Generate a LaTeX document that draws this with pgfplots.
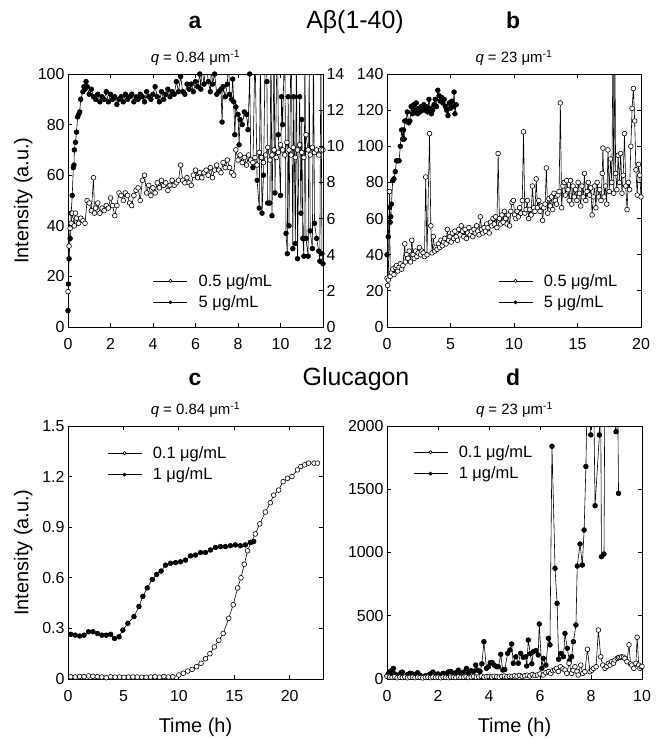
\documentclass[border=0pt]{standalone}
\usepackage{fontspec}
\setmainfont{Liberation Sans}
\usepackage{pgfplots}
\pgfplotsset{compat=1.18}
\pgfplotsset{
  myax/.style={scale only axis, height=253bp, font=\fontsize{16}{19}\selectfont,
    tick align=inside, major tick length=4bp, axis line style={line width=0.8pt},
    every tick/.style={line width=0.8pt, black},
    /pgf/number format/assume math mode=true, /pgf/number format/1000 sep={},
    xticklabel style={yshift=-8bp},
    title style={font=\fontsize{15}{17}\selectfont, yshift=-1bp},
    every axis y label/.style={at={(axis description cs:-0.176,0.5)}, rotate=90, anchor=center, font=\fontsize{20}{24}\selectfont},
    every axis x label/.style={at={(axis description cs:0.5,-0.19)}, anchor=center, font=\fontsize{20}{24}\selectfont},
    legend style={draw=none, fill=none, font=\fontsize{16.5}{19}\selectfont, row sep=4bp, inner sep=0pt,
      /tikz/every odd column/.style={column sep=9bp}},
    legend cell align=left,
    legend image code/.code={\draw[mark repeat=2,mark phase=2,##1] plot coordinates {(0bp,0bp)(17bp,0bp)(34bp,0bp)};},
  },
  openS/.style={black, line width=0.6pt, mark=*, mark size=2.4pt, mark options={fill=white, line width=0.6pt}},
  fillS/.style={black, line width=0.6pt, mark=*, mark size=2.4pt, mark options={fill=black}},
  openL/.style={black, line width=0.6pt, mark=*, mark size=1.6pt, mark options={fill=white, line width=0.6pt}},
  fillL/.style={black, line width=0.6pt, mark=*, mark size=1.6pt, mark options={fill=black}},
}
\begin{document}
\begin{tikzpicture}
\path[use as bounding box] (0,0) rectangle (662bp,-739bp);
% ---------- titles
\node[font=\fontsize{23}{26}\selectfont\bfseries, anchor=base] at (195bp,-28bp) {a};
\node[font=\fontsize{25}{28}\selectfont, anchor=base] at (355bp,-28bp) {Aβ(1-40)};
\node[font=\fontsize{23}{26}\selectfont\bfseries, anchor=base] at (513bp,-28bp) {b};
\node[font=\fontsize{23}{26}\selectfont\bfseries, anchor=base] at (195bp,-385bp) {c};
\node[font=\fontsize{25}{28}\selectfont, anchor=base] at (356bp,-385bp) {Glucagon};
\node[font=\fontsize{23}{26}\selectfont\bfseries, anchor=base] at (513bp,-385bp) {d};

% ---------- panel a
\begin{axis}[myax, width=255bp, at={(68bp,-327bp)}, anchor=south west,
  xmin=0, xmax=12, ymin=0, ymax=100, xtick={0,2,...,12}, ytick={0,20,...,100}, ytick pos=left,
  ylabel={Intensity (a.u.)}, title={\textit{q} = 0.84 μm\textsuperscript{-1}},
  legend style={at={(0.333,0.14)}, anchor=west}]
\addlegendimage{openL}\addlegendentry{0.5 μg/mL}
\addlegendimage{fillL}\addlegendentry{5 μg/mL}
\addplot[fillS, forget plot] coordinates {
(0,6.5)(0.02,17)(0.05,27)(0.1,35)(0.15,45)(0.2,52)(0.25,63)(0.28,64)(0.3,70)(0.35,73)(0.4,77)(0.45,83)(0.5,84)(0.55,85)(0.6,90)(0.7,93)(0.75,95)(0.8,94)(0.85,97)(0.9,95)
(1.0,92)(1.1,94)(1.2,91)(1.3,90)(1.4,92)(1.5,89)(1.6,91)(1.7,90)(1.8,93)(1.9,89)(2.0,92)(2.1,90)(2.2,91)(2.3,88)(2.4,90)(2.5,91)(2.6,89)(2.7,92)(2.8,90)(2.9,91)
(3.0,92)(3.1,89)(3.2,91)(3.3,90)(3.4,92)(3.5,91)(3.6,89)(3.7,93)(3.8,91)(3.9,90)(4.0,92)(4.1,95)(4.2,91)(4.3,89)(4.4,93)(4.5,90)(4.6,92)(4.7,94)(4.8,91)(4.9,93)
(5.0,92)(5.1,97)(5.2,93)(5.3,99)(5.4,93)(5.5,92)(5.6,96)(5.7,94)(5.8,96)(5.9,93)(6.0,97)(6.1,95)(6.2,100)(6.25,94)(6.3,103)(6.4,96)(6.5,105)(6.6,97)(6.7,93)(6.75,104)(6.8,96)(6.9,100)
(7.0,92)(7.1,93)(7.2,94)(7.25,81)(7.3,95)(7.4,91)(7.5,96)(7.55,108)(7.6,92)(7.7,90)(7.75,98)(7.8,89)(7.85,76)(7.9,87)(8.0,84)(8.05,72)(8.1,82)(8.2,80)(8.3,85)(8.4,84)(8.47,78)
(8.55,100)(8.6,66)(8.7,63)(8.8,110)(8.9,58)(9.0,47)(9.05,110)(9.13,45)(9.2,60)(9.3,120)(9.36,97)(9.4,49)(9.5,49)(9.55,115)(9.6,44)(9.7,110)(9.74,53)(9.85,120)(9.9,76)
(10.0,52)(10.05,91)(10.1,80)(10.2,115)(10.26,37)(10.32,29)(10.36,91)(10.4,40)(10.5,120)(10.58,31)(10.62,91)(10.7,33)(10.75,115)(10.8,27)(10.9,91)(10.96,45)
(11.0,82)(11.05,35)(11.1,28)(11.15,110)(11.2,35)(11.3,28)(11.35,105)(11.4,38)(11.5,31)(11.55,115)(11.6,41)(11.7,35)(11.8,30)(11.85,26)(11.9,110)(11.95,29)(12.0,25)};
\addplot[openS, forget plot] coordinates {
(0,14)(0.05,32)(0.1,39)(0.15,41)(0.2,45)(0.3,40)(0.35,45)(0.4,43)(0.5,41)(0.6,43)(0.7,42)(0.8,41)(0.9,50)(1.0,49)(1.1,46)(1.2,59)(1.25,45)(1.3,47)(1.4,49)(1.5,45)
(1.6,47)(1.7,46)(1.8,48)(1.9,47)(2.0,51)(2.1,48)(2.2,44)(2.3,48)(2.4,53)(2.5,52)(2.6,50)(2.7,53)(2.8,52)(2.9,49)(3.0,48)(3.1,52)(3.2,54)(3.3,55)(3.4,50)(3.5,58)
(3.6,60)(3.7,53)(3.8,56)(3.9,52)(4.0,55)(4.1,53)(4.2,57)(4.3,55)(4.4,58)(4.5,56)(4.6,57)(4.7,54)(4.8,56)(4.9,58)(5.0,56)(5.1,57)(5.2,58)(5.3,64)(5.4,58)(5.5,57)
(5.6,59)(5.7,57)(5.8,56)(5.9,60)(6.0,62)(6.1,59)(6.2,61)(6.3,59)(6.4,61)(6.5,62)(6.6,60)(6.7,63)(6.8,59)(6.9,62)(7.0,64)(7.1,62)(7.2,61)(7.3,65)(7.4,63)(7.5,66)
(7.6,63)(7.7,61)(7.8,60)(7.9,70)(8.0,66)(8.1,68)(8.2,65)(8.3,67)(8.4,64)(8.5,68)(8.6,66)(8.7,65)(8.8,67)(8.9,64)(9.0,69)(9.1,67)(9.2,65)(9.3,68)(9.4,71)(9.5,66)
(9.6,68)(9.7,70)(9.8,67)(9.9,69)(10.0,72)(10.1,70)(10.2,68)(10.3,73)(10.4,70)(10.5,68)(10.6,71)(10.7,67)(10.8,70)(10.9,72)(11.0,69)(11.1,67)(11.2,76)(11.3,70)
(11.4,68)(11.5,71)(11.6,69)(11.7,70)(11.8,68)(11.9,70)(12.0,70)};
\end{axis}
% right axis of panel a
\begin{axis}[myax, width=255bp, at={(68bp,-327bp)}, anchor=south west,
  xmin=0, xmax=12, ymin=0, ymax=14, axis x line=none, axis y line*=right, ytick={0,2,...,14}]
\end{axis}

% ---------- panel b
\begin{axis}[myax, width=254bp, at={(387bp,-327bp)}, anchor=south west,
  xmin=0, xmax=20, ymin=0, ymax=140, xtick={0,5,...,20}, ytick={0,20,...,140},
  title={\textit{q} = 23 μm\textsuperscript{-1}},
  legend style={at={(0.437,0.14)}, anchor=west}]
\addlegendimage{openL}\addlegendentry{0.5 μg/mL}
\addlegendimage{fillL}\addlegendentry{5 μg/mL}
\addplot[openS, forget plot] coordinates {
(0.00,27)(0.05,23)(0.10,26)(0.20,75)(0.25,28)(0.35,30)(0.45,32)(0.55,29)(0.65,33)(0.75,34)(0.85,31)(0.95,33)(1.05,35)(1.15,32)(1.25,34)(1.40,46)(1.45,36)(1.55,40)(1.65,38)(1.75,42)
(1.85,36)(1.95,48)(2.05,40)(2.15,38)(2.25,42)(2.35,39)(2.45,41)(2.55,44)(2.65,40)(2.75,42)(2.85,41)(2.95,39)(3.05,83)(3.15,40)(3.35,107)(3.45,56)(3.55,41)(3.65,50)(3.75,42)(3.85,44)
(3.95,43)(4.05,46)(4.15,44)(4.25,48)(4.35,45)(4.45,47)(4.55,49)(4.65,46)(4.75,54)(4.85,48)(4.95,50)(5.05,47)(5.15,52)(5.25,49)(5.35,53)(5.45,50)(5.55,48)(5.65,54)(5.75,51)(5.85,56)
(5.95,53)(6.05,50)(6.15,54)(6.25,49)(6.35,52)(6.45,55)(6.55,51)(6.65,53)(6.75,50)(6.85,54)(6.95,52)(7.05,56)(7.15,53)(7.25,51)(7.35,61)(7.45,54)(7.55,52)(7.65,55)(7.75,53)(7.85,57)
(7.95,55)(8.05,52)(8.15,58)(8.25,56)(8.35,60)(8.45,57)(8.55,61)(8.65,55)(8.75,96)(8.85,60)(8.95,57)(9.05,62)(9.15,58)(9.25,64)(9.35,60)(9.45,57)(9.55,62)(9.65,56)(9.75,64)(9.85,69)
(9.95,70)(10.05,62)(10.15,60)(10.25,64)(10.35,61)(10.45,66)(10.55,63)(10.65,70)(10.75,108)(10.85,63)(10.95,65)(11.05,70)(11.15,60)(11.25,65)(11.35,62)(11.45,78)(11.55,66)(11.65,64)(11.75,82)(11.85,66)
(11.95,70)(12.05,64)(12.15,67)(12.25,59)(12.35,66)(12.45,68)(12.55,88)(12.65,63)(12.75,71)(12.85,67)(12.95,72)(13.05,65)(13.15,74)(13.25,70)(13.35,68)(13.45,73)(13.55,75)(13.65,124)(13.75,66)(13.85,78)
(13.95,80)(14.05,73)(14.15,81)(14.25,76)(14.35,70)(14.45,81)(14.55,68)(14.65,78)(14.75,72)(14.85,76)(14.95,70)(15.05,80)(15.15,74)(15.25,67)(15.35,78)(15.45,72)(15.55,85)(15.65,70)(15.75,75)(15.85,80)
(15.95,73)(16.05,77)(16.15,62)(16.25,72)(16.35,78)(16.45,66)(16.55,80)(16.65,72)(16.75,76)(16.85,70)(16.95,85)(17.00,99)(17.10,72)(17.20,78)(17.30,68)(17.40,98)(17.50,75)(17.60,93)(17.70,80)(17.80,160)
(17.85,74)(17.95,150)(18.00,85)(18.10,76)(18.20,95)(18.30,80)(18.40,96)(18.50,74)(18.60,84)(18.70,107)(18.80,78)(18.90,65)(19.00,80)(19.10,76)(19.20,100)(19.30,121)(19.40,132)(19.50,114)(19.60,87)(19.70,73)
(19.80,90)(19.90,84)(20.00,72)};
\addplot[fillS, forget plot] coordinates {
(0.00,40)(0.10,50)(0.20,66)(0.25,58)(0.30,61)(0.35,68)(0.45,81)(0.55,82)(0.65,86)(0.75,92)(0.85,92)(0.95,92)(1.05,100)(1.15,109)(1.25,104)(1.30,109)(1.35,104)(1.40,114)(1.50,114)(1.60,119)
(1.70,113)(1.80,114)(1.90,122)(2.00,118)(2.10,123)(2.20,120)(2.30,124)(2.40,118)(2.50,121)(2.60,119)(2.70,122)(2.80,120)(2.90,123)(3.00,120)(3.10,122)(3.20,119)(3.30,126)(3.40,121)(3.50,118)(3.60,120)
(3.70,123)(3.80,126)(3.90,122)(4.00,131)(4.10,128)(4.20,125)(4.30,127)(4.40,124)(4.50,126)(4.60,122)(4.70,120)(4.80,117)(4.90,124)(5.00,121)(5.10,125)(5.20,122)(5.28,130)(5.35,118)(5.45,123)};
\end{axis}

% ---------- panel c
\begin{axis}[myax, width=255bp, at={(68bp,-679bp)}, anchor=south west,
  xmin=0, xmax=23, ymin=0, ymax=1.5, xtick={0,5,...,20}, ytick={0,0.3,0.6,0.9,1.2,1.5},
  yticklabels={0,0.3,0.6,0.9,1.2,1.5},
  ylabel={Intensity (a.u.)}, xlabel={Time (h)}, title={\textit{q} = 0.84 μm\textsuperscript{-1}},
  legend style={at={(0.153,0.85)}, anchor=west}]
\addlegendimage{openL}\addlegendentry{0.1 μg/mL}
\addlegendimage{fillL}\addlegendentry{1 μg/mL}
\addplot[openS, forget plot] coordinates {
(0.25,0.013)(0.65,0.012)(1.05,0.015)(1.45,0.014)(1.85,0.018)(2.25,0.016)(2.65,0.014)(3.05,0.012)(3.45,0.008)(3.85,0.013)(4.25,0.011)(4.65,0.012)(5.05,0.010)(5.45,0.011)(5.85,0.012)
(6.25,0.012)(6.65,0.011)(7.05,0.010)(7.45,0.012)(7.85,0.013)(8.25,0.011)(8.65,0.015)(9.05,0.012)(9.45,0.013)
(10.0,0.024)(10.4,0.034)(10.8,0.047)(11.2,0.057)(11.6,0.073)(12.0,0.093)(12.4,0.12)(12.8,0.15)(13.2,0.19)(13.6,0.23)(14.0,0.27)(14.5,0.36)(14.9,0.44)(15.3,0.54)(15.6,0.60)(15.9,0.68)(16.2,0.76)
(16.5,0.81)(16.9,0.86)(17.3,0.92)(17.8,0.99)(18.25,1.045)(18.55,1.09)(19.0,1.12)(19.4,1.17)(19.8,1.19)(20.2,1.20)(20.7,1.24)(21.0,1.26)(21.35,1.27)(21.7,1.28)(22.2,1.28)(22.5,1.28)};
\addplot[fillS, forget plot] coordinates {
(0.25,0.265)(0.65,0.26)(1.05,0.255)(1.45,0.26)(1.85,0.28)(2.25,0.28)(2.65,0.27)(3.05,0.26)(3.45,0.26)(3.85,0.265)(4.2,0.24)(4.6,0.25)(4.95,0.29)(5.4,0.33)(5.95,0.37)(6.4,0.43)
(6.75,0.49)(7.15,0.54)(7.6,0.59)(8.0,0.62)(8.4,0.64)(8.8,0.675)(9.25,0.686)(9.7,0.69)(10.15,0.695)(10.6,0.705)(11.05,0.73)(11.5,0.735)(11.95,0.75)(12.4,0.75)(12.85,0.765)
(13.3,0.78)(13.75,0.785)(14.2,0.785)(14.65,0.79)(15.1,0.795)(15.55,0.79)(16.0,0.795)(16.45,0.81)(16.75,0.815)};
\end{axis}

% ---------- panel d
\begin{axis}[myax, width=255bp, at={(387bp,-679bp)}, anchor=south west,
  xmin=0, xmax=10, ymin=0, ymax=2000, xtick={0,2,...,10}, ytick={0,500,...,2000},
  xlabel={Time (h)}, title={\textit{q} = 23 μm\textsuperscript{-1}},
  legend style={at={(0.102,0.854)}, anchor=west}]
\addlegendimage{openL}\addlegendentry{0.1 μg/mL}
\addlegendimage{fillL}\addlegendentry{1 μg/mL}
\addplot[fillS, forget plot] coordinates {
(0.00,24)(0.05,40)(0.10,58)(0.15,30)(0.20,70)(0.25,84)(0.30,40)(0.35,20)(0.40,30)(0.50,15)(0.55,50)(0.60,55)(0.70,20)(0.80,35)(0.90,45)(1.00,40)(1.10,25)(1.20,50)(1.30,30)(1.40,20)
(1.50,25)(1.60,30)(1.70,40)(1.80,55)(1.90,35)(2.00,40)(2.10,30)(2.20,45)(2.30,40)(2.40,55)(2.50,60)(2.60,45)(2.70,50)(2.80,70)(2.90,40)(3.00,55)(3.12,84)(3.20,50)(3.30,65)(3.40,60)
(3.48,110)(3.55,70)(3.65,60)(3.72,120)(3.80,295)(3.90,84)(3.98,97)(4.05,130)(4.13,129)(4.20,110)(4.30,97)(4.37,97)(4.46,195)(4.54,71)(4.62,75)(4.73,203)(4.82,229)(4.89,277)(4.95,124)(5.05,176)
(5.15,124)(5.24,203)(5.35,172)(5.44,176)(5.48,103)(5.54,308)(5.62,200)(5.68,120)(5.74,216)(5.84,225)(5.93,190)(5.97,435)(6.07,84)(6.13,163)(6.23,110)(6.33,322)(6.39,270)(6.47,1840)(6.59,875)(6.67,598)
(6.73,156)(6.82,203)(6.92,176)(6.98,361)(7.07,243)(7.15,145)(7.24,176)(7.31,295)(7.41,427)(7.46,893)(7.57,1067)(7.66,901)(7.73,1178)(7.80,1680)(7.88,2600)(7.99,1930)(8.08,2600)(8.16,1370)(8.33,1930)(8.37,2600)
(8.41,967)(8.51,988)(8.55,2600)(8.98,1955)(9.03,2600)(9.08,1468)};
\addplot[openS, forget plot] coordinates {
(0.0,20)(0.1,15)(0.2,12)(0.3,18)(0.4,10)(0.5,14)(0.6,12)(0.7,16)(0.8,10)(0.9,13)(1.0,15)(1.1,11)(1.2,14)(1.3,12)(1.4,9)(1.5,13)(1.6,15)(1.7,11)(1.8,16)(1.9,12)
(2.0,14)(2.1,10)(2.2,15)(2.3,13)(2.4,11)(2.5,16)(2.6,14)(2.7,12)(2.8,17)(2.9,13)(3.0,15)(3.1,18)(3.2,12)(3.3,16)(3.4,20)(3.5,14)(3.6,17)(3.7,22)(3.8,15)(3.9,18)
(4.0,20)(4.1,16)(4.2,22)(4.3,18)(4.4,15)(4.5,20)(4.6,24)(4.7,18)(4.8,22)(4.9,20)(5.0,25)(5.1,22)(5.2,28)(5.3,20)(5.4,26)(5.5,30)(5.6,24)(5.7,35)(5.8,28)(5.9,32)
(6.0,40)(6.13,32)(6.23,50)(6.33,58)(6.42,45)(6.5,66)(6.58,72)(6.65,84)(6.72,60)(6.8,97)(6.9,80)(6.98,71)(7.05,45)(7.14,124)(7.24,45)(7.3,70)(7.37,97)(7.45,60)(7.5,32)(7.6,110)
(7.68,45)(7.76,58)(7.86,235)(7.96,58)(8.03,70)(8.1,84)(8.2,97)(8.29,387)(8.38,176)(8.46,110)(8.55,84)(8.62,100)(8.68,124)(8.75,110)(8.81,137)(8.88,125)(8.94,150)(9.03,163)(9.08,170)(9.14,172)
(9.2,175)(9.27,172)(9.33,163)(9.41,137)(9.49,270)(9.55,120)(9.6,110)(9.68,84)(9.76,124)(9.81,330)(9.87,110)(9.92,84)(9.97,97)(10.0,100)};
\end{axis}
\end{tikzpicture}
\end{document}
